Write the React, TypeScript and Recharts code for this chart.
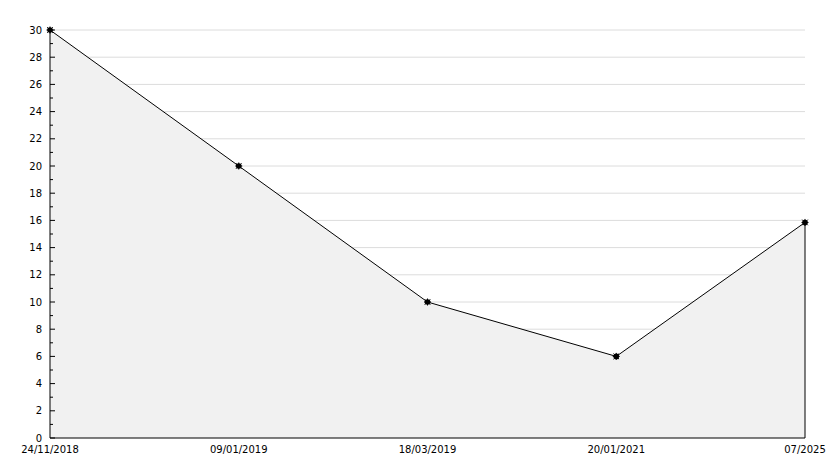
import { AreaChart, Area, XAxis, YAxis, CartesianGrid, ReferenceLine } from "recharts"

const dates = ["24/11/2018", "09/01/2019", "18/03/2019", "20/01/2021", "07/2025"]
const counts = [30, 20, 10, 6, 15.85]
const yTicks = Array.from({ length: 31 }, (_, i) => i)
const gridValues = [2, 4, 6, 8, 10, 12, 14, 16, 18, 20, 22, 24, 26, 28, 30]

const data = dates.map((d, i) => ({ date: d, value: counts[i] }))

const FONT = "'DejaVu Sans', sans-serif"

function YTick(props: any) {
  const { x, y, payload } = props
  const major = payload.value % 2 === 0
  return (
    <g>
      <line x1={x} x2={x + (major ? 5 : 3)} y1={y} y2={y} stroke="#000" />
      {major && (
        <text x={x - 8} y={y} dy="0.35em" textAnchor="end" fontSize={10} fontFamily={FONT} fill="#000">
          {payload.value}
        </text>
      )}
    </g>
  )
}

function StarDot(props: any) {
  const { cx, cy } = props
  if (cx == null || cy == null) return null
  return (
    <g>
      <circle cx={cx} cy={cy} r={2.8} fill="#000" />
      <line x1={cx - 3.5} x2={cx + 3.5} y1={cy} y2={cy} stroke="#000" />
      <line x1={cx} x2={cx} y1={cy - 3.5} y2={cy + 3.5} stroke="#000" />
      <line x1={cx - 2.8} x2={cx + 2.8} y1={cy - 2.8} y2={cy + 2.8} stroke="#000" />
      <line x1={cx - 2.8} x2={cx + 2.8} y1={cy + 2.8} y2={cy - 2.8} stroke="#000" />
    </g>
  )
}

export default function App() {
  const last = data[data.length - 1]
  return (
    <div style={{ position: "absolute", left: 0, top: 0, width: 834, height: 468, background: "#fff" }}>
      <AreaChart width={834} height={468} data={data} margin={{ top: 30, right: 29, bottom: 0, left: 0 }}>
        <CartesianGrid
          vertical={false}
          stroke="#dcdcdc"
          horizontalCoordinatesGenerator={({ offset }: any) =>
            gridValues.map((v) => offset.top + offset.height * (1 - v / 30))
          }
        />
        <XAxis
          dataKey="date"
          axisLine={{ stroke: "#000" }}
          tickLine={false}
          tickSize={0}
          tickMargin={8}
          height={30}
          interval={0}
          tick={{ fontSize: 10, fontFamily: FONT, fill: "#000" }}
        />
        <YAxis
          domain={[0, 30]}
          ticks={yTicks}
          interval={0}
          width={50}
          axisLine={{ stroke: "#000" }}
          tickLine={false}
          tickSize={0}
          tickMargin={0}
          tick={<YTick />}
        />
        <Area
          type="linear"
          dataKey="value"
          stroke="#000"
          strokeWidth={1}
          fill="#f1f1f1"
          fillOpacity={1}
          dot={<StarDot />}
          activeDot={false}
          isAnimationActive={false}
        />
        <ReferenceLine
          segment={[
            { x: last.date, y: 0 },
            { x: last.date, y: last.value },
          ]}
          stroke="#000"
        />
      </AreaChart>
    </div>
  )
}
